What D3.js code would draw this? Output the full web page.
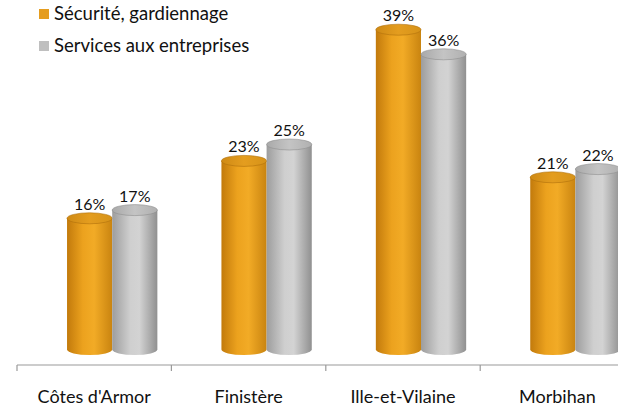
<!DOCTYPE html>
<html>
<head>
<meta charset="utf-8">
<script src="https://cdn.jsdelivr.net/npm/d3@7"></script>
<style>
  body { margin: 0; background: #fff; }
  text { font-family: Lato, "Open Sans", sans-serif; fill: #111; }
</style>
</head>
<body>
<svg id="chart"></svg>
<script>
const width = 618;
const height = 408;

// données (%)
const departements = ["Côtes d'Armor", 'Finistère', 'Ille-et-Vilaine', 'Morbihan'];
const series = ['Sécurité, gardiennage', 'Services aux entreprises'];
const securite = [16, 23, 39, 21];
const services = [17, 25, 36, 22];

const svg = d3.select('#chart').attr('width', width).attr('height', height);

const defs = svg.append('defs');
function cylGradient(id, stops) {
  const g = defs.append('linearGradient').attr('id', id)
    .attr('x1', '0%').attr('x2', '100%').attr('y1', '0%').attr('y2', '0%');
  stops.forEach(s => g.append('stop').attr('offset', s[0]).attr('stop-color', s[1]));
}
cylGradient('bodyOrange', [['0%', '#c27a0c'], ['35%', '#eca21e'], ['60%', '#f2ab26'], ['100%', '#c98410']]);
cylGradient('bodyGray', [['0%', '#9d9d9d'], ['40%', '#cfcfcf'], ['60%', '#d3d3d3'], ['100%', '#909090']]);
cylGradient('topOrange', [['0%', '#cf8a15'], ['50%', '#e49d1f'], ['100%', '#d69319']]);
cylGradient('topGray', [['0%', '#a9a9a9'], ['50%', '#c4c4c4'], ['100%', '#b0b0b0']]);

const colors = {
  body: ['url(#bodyOrange)', 'url(#bodyGray)'],
  top: ['url(#topOrange)', 'url(#topGray)'],
  rim: ['#b0710c', '#8e8e8e'],
  legend: ['#e59d1f', '#bfbfbf']
};

// échelles
const xAxisScale = d3.scaleBand().domain(departements).range([17, 634.6]);
const x = d3.scaleBand().domain(departements).range([35, 652.6]).paddingInner(0.415).paddingOuter(0.2075);
const xSub = d3.scaleBand().domain([0, 1]).range([0, x.bandwidth()]);
const y = d3.scaleLinear().domain([0, 40]).range([349.5, 21.5]);
const ry = 5.5;

// axe
const axisY = 365;
svg.append('line')
  .attr('x1', 17).attr('x2', width).attr('y1', axisY).attr('y2', axisY)
  .attr('stroke', '#9a9a9a').attr('stroke-width', 1.2);
svg.selectAll('.tick-sep').data(departements).enter().append('line')
  .attr('x1', d => xAxisScale(d)).attr('x2', d => xAxisScale(d))
  .attr('y1', axisY).attr('y2', axisY + 6)
  .attr('stroke', '#9a9a9a').attr('stroke-width', 1.2);

const axis = svg.append('g').attr('transform', `translate(0,${axisY})`)
  .call(d3.axisBottom(xAxisScale).tickSize(0).tickPadding(25));
axis.select('.domain').remove();
axis.selectAll('text').style('font-size', '18px').style('font-family', 'Lato, sans-serif').attr('fill', '#111');

// cylindres
const rows = [];
departements.forEach((d, i) => {
  rows.push({ dep: d, s: 0, v: securite[i] });
  rows.push({ dep: d, s: 1, v: services[i] });
});

const bars = svg.selectAll('.bar').data(rows).enter().append('g').attr('class', 'bar');

bars.append('path')
  .attr('d', d => {
    const x0 = x(d.dep) + xSub(d.s);
    const w = xSub.bandwidth();
    const yt = y(d.v), yb = y(0);
    return `M${x0},${yt} L${x0},${yb} A${w / 2},${ry} 0 0 0 ${x0 + w},${yb} L${x0 + w},${yt} Z`;
  })
  .attr('fill', d => colors.body[d.s]);

bars.append('ellipse')
  .attr('cx', d => x(d.dep) + xSub(d.s) + xSub.bandwidth() / 2)
  .attr('cy', d => y(d.v))
  .attr('rx', xSub.bandwidth() / 2)
  .attr('ry', ry)
  .attr('fill', d => colors.top[d.s])
  .attr('stroke', d => colors.rim[d.s])
  .attr('stroke-width', 0.6);

bars.append('text')
  .attr('x', d => x(d.dep) + xSub(d.s) + xSub.bandwidth() / 2)
  .attr('y', d => y(d.v) - ry - 3)
  .attr('text-anchor', 'middle')
  .style('font-size', '16px')
  .text(d => d.v + '%');

// légende
const legend = svg.selectAll('.legend').data(series).enter().append('g')
  .attr('transform', (d, i) => `translate(39,${9 + i * 32})`);
legend.append('rect').attr('width', 10).attr('height', 10).attr('fill', (d, i) => colors.legend[i]);
legend.append('text').attr('x', 15).attr('y', 11).style('font-size', '18.5px').text(d => d);
</script>
</body>
</html>
